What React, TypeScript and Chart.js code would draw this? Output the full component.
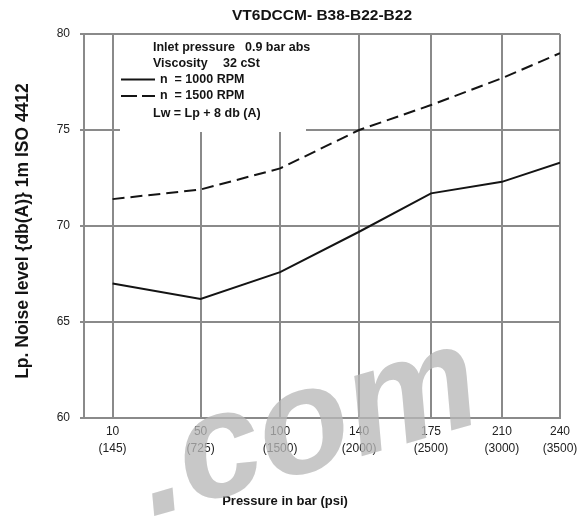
import React, { useEffect, useRef } from "react";
import { Chart, registerables } from "chart.js";

Chart.register(...registerables);

// Category labels (pressure in bar, and psi)
const pressureBar = ["10", "50", "100", "140", "175", "210", "240"];
const pressurePsi = ["(145)", "(725)", "(1500)", "(2000)", "(2500)", "(3000)", "(3500)"];
// Position of each category along the (non-uniform) x axis, 0..100
const axisPositions = [6.0, 24.5, 41.2, 57.8, 72.9, 87.8, 100];
// Noise level Lp dB(A)
const rpm1000 = [67.0, 66.2, 67.6, 69.7, 71.7, 72.3, 73.3];
const rpm1500 = [71.4, 71.9, 73.0, 75.0, 76.3, 77.7, 79.0];
// y axis
const yMin = 60;
const yMax = 80;
const yStep = 5;

const titleText = "VT6DCCM- B38-B22-B22";
const yTitle = "Lp. Noise level {db(A)} 1m ISO 4412";
const xTitle = "Pressure in bar (psi)";
const noteLines = ["Inlet pressure", "0.9 bar abs", "Viscosity", "32 cSt", "n  = 1000 RPM", "n  = 1500 RPM", "Lw = Lp + 8 db (A)"];
const watermark = ".com";

const FONT = '"Liberation Sans", Arial, Helvetica, sans-serif';
const GRID = "#8a8a8a";
const INK = "#141414";

export default function App() {
  const ref = useRef<HTMLCanvasElement>(null);

  useEffect(() => {
    if (!ref.current) return;
    const overlay = {
      id: "overlay",
      beforeDatasetsDraw(chart: any) {
        const ctx = chart.ctx;
        ctx.save();
        ctx.fillStyle = "#ffffff";
        ctx.fillRect(120, 35, 186, 97);
        ctx.restore();
      },
      afterDraw(chart: any) {
        const ctx = chart.ctx;
        const ca = chart.chartArea;
        ctx.save();
        ctx.fillStyle = INK;
        ctx.textBaseline = "middle";
        // title
        ctx.textAlign = "center";
        ctx.font = `bold 15.5px ${FONT}`;
        ctx.fillText(titleText, (ca.left + ca.right) / 2, 16);
        // note box
        ctx.textAlign = "left";
        ctx.font = `bold 12.5px ${FONT}`;
        ctx.fillText(noteLines[0], 153, 48);
        ctx.fillText(noteLines[1], 245, 48);
        ctx.fillText(noteLines[2], 153, 64);
        ctx.fillText(noteLines[3], 223, 64);
        ctx.fillText(noteLines[4], 160, 79.5);
        ctx.fillText(noteLines[5], 160, 96);
        ctx.fillText(noteLines[6], 153, 114);
        ctx.strokeStyle = INK;
        ctx.lineWidth = 2;
        ctx.beginPath();
        ctx.moveTo(121, 79.5);
        ctx.lineTo(155, 79.5);
        ctx.stroke();
        ctx.beginPath();
        ctx.moveTo(121, 96);
        ctx.lineTo(137, 96);
        ctx.moveTo(142, 96);
        ctx.lineTo(155, 96);
        ctx.stroke();
        // axis titles
        ctx.textAlign = "center";
        ctx.font = `bold 13px ${FONT}`;
        ctx.fillText(xTitle, 285, 501);
        ctx.font = `bold 17.5px ${FONT}`;
        ctx.textBaseline = "alphabetic";
        ctx.translate(28, 231);
        ctx.rotate(-Math.PI / 2);
        ctx.fillText(yTitle, 0, 0);
        ctx.restore();
        // watermark
        ctx.save();
        ctx.fillStyle = "rgba(183,183,183,0.77)";
        ctx.font = `italic bold 150px ${FONT}`;
        ctx.textAlign = "left";
        ctx.textBaseline = "alphabetic";
        ctx.translate(151, 517);
        ctx.rotate(-0.28);
        ctx.fillText(watermark, 0, 0);
        ctx.restore();
      },
    };

    const chart = new Chart(ref.current, {
      type: "line",
      data: {
        datasets: [
          {
            label: "n = 1000 RPM",
            data: axisPositions.map((x, i) => ({ x, y: rpm1000[i] })),
            borderColor: INK,
            borderWidth: 2,
            pointRadius: 0,
            tension: 0,
            fill: false,
          },
          {
            label: "n = 1500 RPM",
            data: axisPositions.map((x, i) => ({ x, y: rpm1500[i] })),
            borderColor: INK,
            borderWidth: 2,
            borderDash: [12, 6],
            pointRadius: 0,
            tension: 0,
            fill: false,
          },
        ],
      },
      options: {
        responsive: false,
        animation: false,
        layout: { padding: { left: 0, right: 21, top: 34, bottom: 0 } },
        plugins: {
          legend: { display: false },
          title: { display: false },
          tooltip: { enabled: false },
        },
        scales: {
          x: {
            type: "linear",
            min: 0,
            max: 100,
            afterBuildTicks: (s: any) => {
              s.ticks = axisPositions.map((v) => ({ value: v }));
            },
            afterFit: (s: any) => {
              s.height = 105;
              s.paddingLeft = 0;
              s.paddingRight = 0;
            },
            ticks: {
              autoSkip: false,
              maxRotation: 0,
              minRotation: 0,
              padding: 5,
              color: "#222",
              font: { family: FONT, size: 12, lineHeight: 1.45 },
              callback: (_v: any, i: number) => [pressureBar[i], pressurePsi[i]],
            },
            grid: { color: GRID, lineWidth: 2, drawTicks: false },
            border: { color: GRID, width: 2 },
          },
          y: {
            min: yMin,
            max: yMax,
            afterFit: (s: any) => {
              s.width = 84;
              s.paddingTop = 0;
              s.paddingBottom = 0;
            },
            ticks: {
              stepSize: yStep,
              padding: 10,
              color: "#222",
              font: { family: FONT, size: 12 },
            },
            grid: { color: GRID, lineWidth: 2, tickLength: 4 },
            border: { color: GRID, width: 2 },
          },
        },
      },
      plugins: [overlay],
    });
    return () => chart.destroy();
  }, []);

  return (
    <div style={{ position: "absolute", left: 0, top: 0, width: 581, height: 523, background: "#fff" }}>
      <canvas ref={ref} width={581} height={523} style={{ display: "block", width: 581, height: 523 }} />
    </div>
  );
}
